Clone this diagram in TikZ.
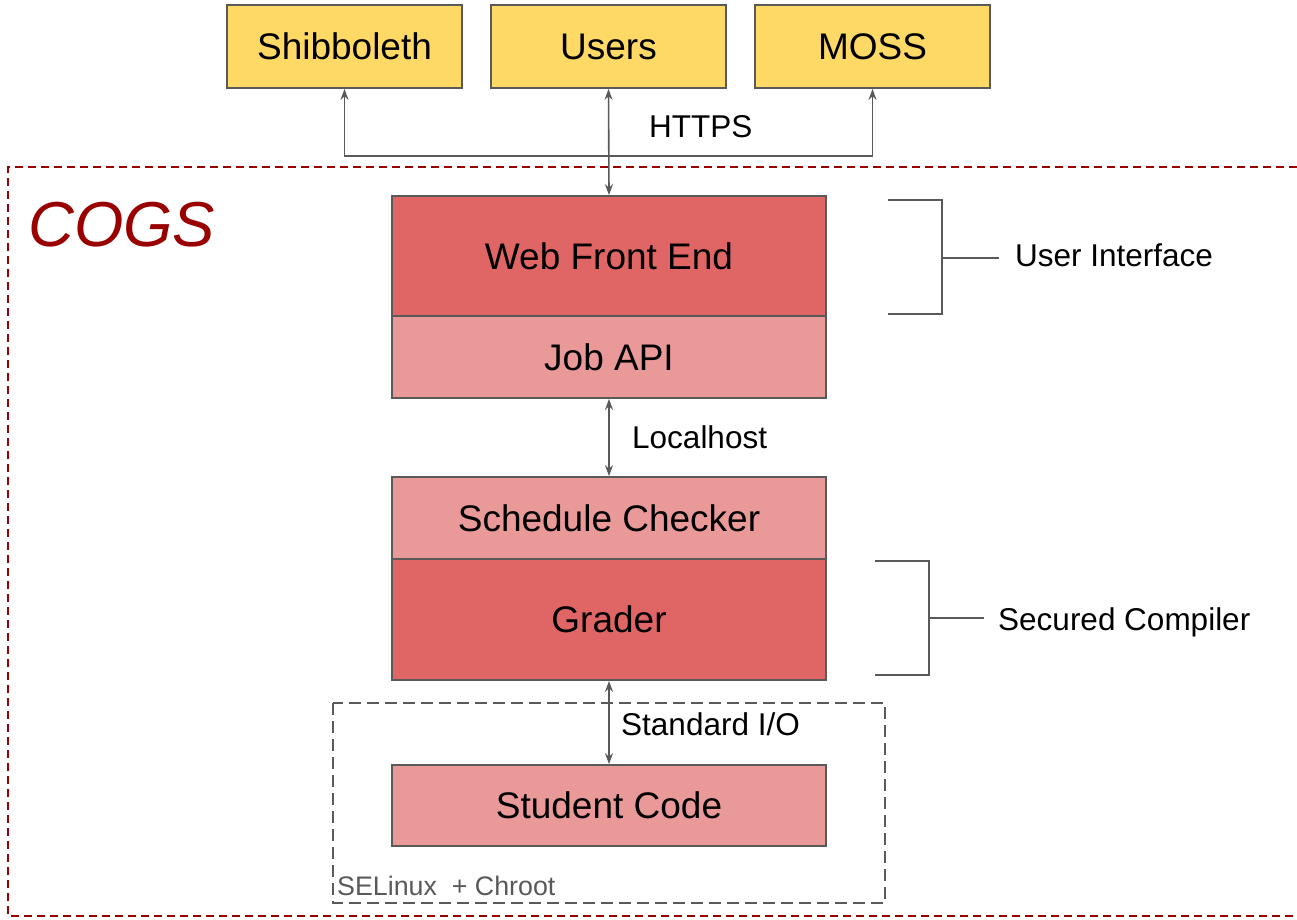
\documentclass[tikz,border=0pt]{standalone}
\usepackage{fontspec}
\setmainfont{Liberation Sans}
\usetikzlibrary{arrows.meta}
\definecolor{ylw}{HTML}{FFD966}
\definecolor{dred}{HTML}{E06666}
\definecolor{lred}{HTML}{EA9999}
\definecolor{edge}{HTML}{595959}
\definecolor{cogs}{HTML}{990000}
\begin{document}
\begin{tikzpicture}[x=1pt,y=-1pt,
  box/.style={draw=edge, line width=1.8pt, minimum width=434pt, inner sep=0pt, font=\fontsize{37}{44}\selectfont},
  ext/.style={draw=edge, line width=1.8pt, fill=ylw, minimum width=235pt, minimum height=83pt, inner sep=0pt, font=\fontsize{37}{44}\selectfont},
  conn/.style={draw=edge, line width=1.6pt, {Stealth[length=11pt,width=8pt]}-{Stealth[length=11pt,width=8pt]}},
  brace/.style={draw=edge, line width=1.6pt},
  lbl/.style={font=\fontsize{31.5}{38}\selectfont, inner sep=0pt},
]
\useasboundingbox (0,0) rectangle (1297,919);
% COGS frame
\draw[cogs, line width=1.6pt, dash pattern=on 8pt off 5pt] (1297,167) -- (8,167) -- (8,916) -- (1297,916);
\node[cogs, anchor=base west, inner sep=0pt, font=\fontsize{63.5}{70}\selectfont\itshape] (cogslbl) at (28,246) {COGS};
% external
\node[ext] (shib) at (344.5,46.5) {Shibboleth};
\node[ext] (users) at (608.5,46.5) {Users};
\node[ext] (moss) at (872.5,46.5) {MOSS};
% stack
\node[box, fill=dred, minimum height=120pt] (web) at (609,256) {Web Front End};
\node[box, fill=lred, minimum height=82pt] (api) at (609,357) {Job API};
\node[box, fill=lred, minimum height=82pt] (sched) at (609,518) {Schedule Checker};
\node[box, fill=dred, minimum height=121pt] (grader) at (609,619.5) {Grader};
% sandbox
\draw[edge, line width=1.6pt, dash pattern=on 12pt off 6pt] (333,703) rectangle (885,903);
\node[anchor=base west, inner sep=0pt, text=edge, font=\fontsize{26.8}{32}\selectfont] (selinux) at (337,895) {SELinux\ \ + Chroot};
\node[box, fill=lred, minimum height=81pt] (student) at (609,805.5) {Student Code};
% connectors
\coordinate (hy) at (0,156);
\draw[conn] (shib.south) -- (shib.south |- hy) -- (moss.south |- hy) -- (moss.south);
\draw[conn] (users.south) -- (web.north);
\node[lbl, anchor=base west] (https) at (649,137) {HTTPS};
\draw[conn] (api.south) -- (sched.north);
\node[lbl, anchor=base west] (local) at (632,448) {Localhost};
\draw[conn] (grader.south) -- (student.north);
\node[lbl, anchor=base west] (stdio) at (621,735) {Standard I/O};
% brackets
\draw[brace] (888,200) -- (942,200) -- (942,314) -- (888,314);
\draw[brace] (942,258) -- (999,258);
\node[lbl, anchor=base west] (ui) at (1015,266) {User Interface};
\draw[brace] (875,561) -- (929,561) -- (929,675) -- (875,675);
\draw[brace] (929,618) -- (984,618);
\node[lbl, anchor=base west] (sc) at (998,630) {Secured Compiler};
\end{tikzpicture}
\end{document}
